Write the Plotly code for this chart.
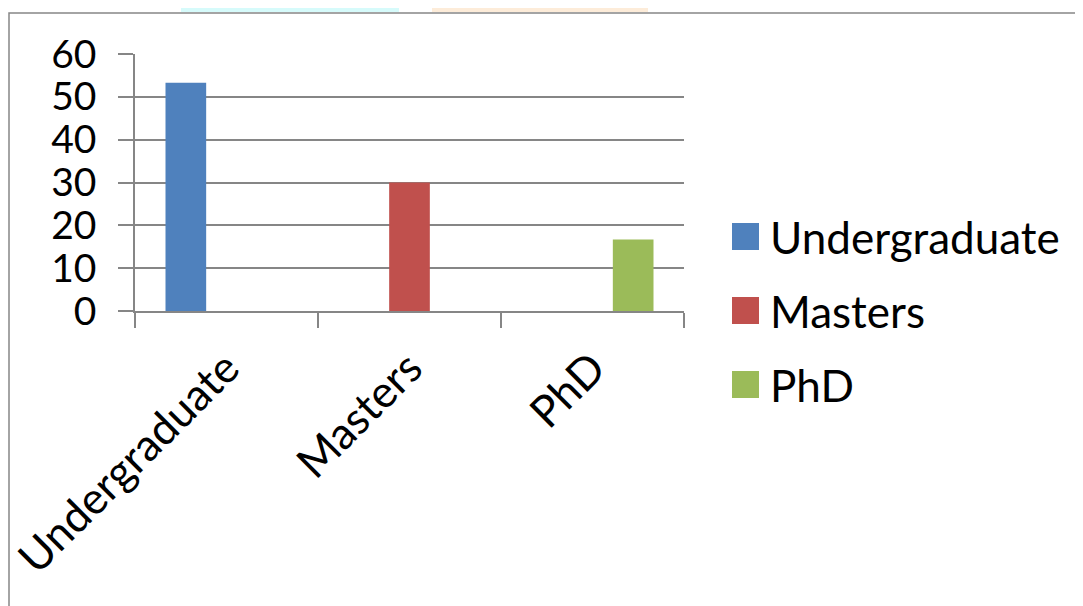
import plotly.graph_objects as go

categories = ["Undergraduate", "Masters", "PhD"]
series_names = ["Undergraduate", "Masters", "PhD"]
series_values = [
    [53.3, None, None],
    [None, 30.0, None],
    [None, None, 16.7],
]
colors = ["#4F81BD", "#C0504D", "#9BBB59"]
y_ticks = [0, 10, 20, 30, 40, 50, 60]

OFF = 8  # page body margin
W, H = 1083, 606
# target positions in screenshot pixels
PL, PR, PT, PB = 135, 684, 54, 311
L, T = PL - OFF, PT - OFF
pw, ph = PR - PL, PB - PT
R = W - L - pw
B = H - T - ph

def px(x):
    return (x - PL) / pw

def py(y):
    return (PB - y) / ph

FONT = "Lato"
fig = go.Figure()
for name, vals, c in zip(series_names, series_values, colors):
    fig.add_trace(go.Bar(x=categories, y=vals, name=name, marker_color=c,
                         marker_line_width=0, showlegend=False))

shapes = []
annotations = []
# faint watermark at top
shapes.append(dict(type="rect", xref="paper", yref="paper", x0=px(181), x1=px(399),
                   y0=py(12), y1=py(-10), fillcolor="#d6fbfb", line_width=0, layer="below"))
shapes.append(dict(type="rect", xref="paper", yref="paper", x0=px(432), x1=px(648),
                   y0=py(12), y1=py(-10), fillcolor="#fdecd9", line_width=0, layer="below"))
# chart frame
shapes.append(dict(type="rect", xref="paper", yref="paper", x0=px(9), x1=px(1100),
                   y0=py(640), y1=py(13), line=dict(color="#868686", width=1.5),
                   fillcolor="rgba(0,0,0,0)"))
# manual legend
for i, (name, c) in enumerate(zip(series_names, colors)):
    cy = 237 + i * 74
    shapes.append(dict(type="rect", xref="paper", yref="paper", x0=px(732), x1=px(759),
                       y0=py(cy + 13), y1=py(cy - 14), fillcolor=c, line_width=0))
    annotations.append(dict(x=px(768), y=py(cy), xref="paper", yref="paper", text=name,
                            showarrow=False, xanchor="left", yanchor="middle",
                            font=dict(family=FONT, size=44, color="black")))

fig.update_layout(
    width=W, height=H,
    margin=dict(l=L, r=R, t=T, b=B, autoexpand=False),
    paper_bgcolor="white", plot_bgcolor="white",
    barmode="group", bargap=1.5 / 4.5, bargroupgap=0,
    showlegend=False,
    font=dict(family=FONT, size=40, color="black"),
    shapes=shapes, annotations=annotations,
)
fig.update_yaxes(range=[0, 60], tickvals=y_ticks, showgrid=True, gridcolor="#868686",
                 gridwidth=1.5, showline=True, linecolor="#868686", linewidth=1.5,
                 ticks="outside", ticklen=15, tickcolor="#868686", tickwidth=1.5,
                 zeroline=False, automargin=False, ticklabelstandoff=14,
                 tickfont=dict(family=FONT, size=39))
fig.update_xaxes(tickangle=-45, showline=True, linecolor="#868686", linewidth=1.5,
                 ticks="outside", tickson="boundaries", ticklen=15, tickcolor="#868686",
                 tickwidth=1.5, showgrid=False, automargin=False, ticklabelstandoff=12,
                 tickfont=dict(family=FONT, size=44))

fig.write_html("out.html")
